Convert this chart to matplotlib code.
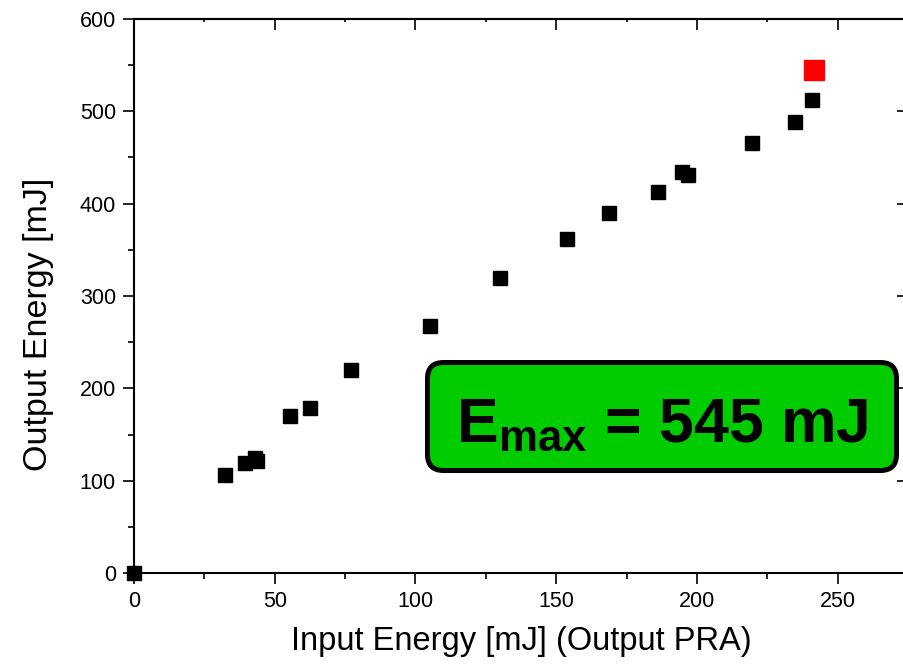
import matplotlib
matplotlib.use("Agg")
import matplotlib.pyplot as plt
from matplotlib.patches import FancyBboxPatch
from matplotlib.ticker import MultipleLocator
import numpy as np

plt.rcParams["font.family"] = "Liberation Sans"
plt.rcParams["mathtext.fontset"] = "custom"
plt.rcParams["mathtext.bf"] = "Liberation Sans:bold"
plt.rcParams["mathtext.rm"] = "Liberation Sans"

# measured pulse energies
input_energy = np.array([0, 32.4, 39.5, 43.0, 43.6, 55.5, 62.5, 77.2, 105.0,
                         130.0, 154.0, 168.8, 186.1, 194.8, 196.8, 219.7,
                         234.8, 240.8])
output_energy = np.array([0, 106, 119, 125, 121, 170, 179, 220, 268, 320,
                          362, 390, 413, 434, 431, 466, 488, 512])

# best shot
max_input = 241.6
max_output = 545

fig = plt.figure(figsize=(9.04, 6.64), dpi=100)
W, H = 904, 664
ax = fig.add_axes([134 / W, (H - 573) / H, 774 / W, 554 / H])

ax.plot(input_energy, output_energy, "s", color="black", ms=9.4,
        mec="black", clip_on=False, zorder=5)
ax.plot([max_input], [max_output], "s", color="#ff0000", ms=13.7,
        mec="#ff0000", clip_on=False, zorder=5)

ax.set_xlim(0, 275)
ax.set_ylim(0, 600)
ax.xaxis.set_major_locator(MultipleLocator(50))
ax.xaxis.set_minor_locator(MultipleLocator(25))
ax.yaxis.set_major_locator(MultipleLocator(100))
ax.yaxis.set_minor_locator(MultipleLocator(50))

for s in ax.spines.values():
    s.set_linewidth(1.5)

ax.tick_params(which="major", direction="out", length=8, width=1.2,
               labelsize=15.5, pad=5)
ax.tick_params(which="minor", direction="out", length=4, width=1.2)

# mirrored ticks on the top and right
top = ax.secondary_xaxis("top")
top.xaxis.set_major_locator(MultipleLocator(50))
top.xaxis.set_minor_locator(MultipleLocator(25))
top.tick_params(which="major", direction="in", length=8, width=1.2,
                labeltop=False)
top.tick_params(which="minor", direction="in", length=2, width=1.2)
top.spines["top"].set_linewidth(1.5)

right = ax.secondary_yaxis("right")
right.yaxis.set_major_locator(MultipleLocator(100))
right.yaxis.set_minor_locator(MultipleLocator(50))
right.tick_params(which="major", direction="in", length=8, width=1.2,
                  labelright=False)
right.tick_params(which="minor", direction="in", length=2, width=1.2)

ax.set_xlabel("Input Energy [mJ] (Output PRA)", fontsize=23.5, labelpad=10)
ax.set_ylabel("Output Energy [mJ]", fontsize=24.5)
ax.yaxis.set_label_coords(-0.103, 0.448)

# highlight box with the maximum energy
box = FancyBboxPatch((4.275, 1.935), 4.69, 1.08,
                     boxstyle="round,pad=0,rounding_size=0.16",
                     transform=fig.dpi_scale_trans, facecolor="#00cc00",
                     edgecolor="black", linewidth=3.6, zorder=10)
fig.patches.append(box)
fig.text(6.62, 2.223, r"$\mathbf{E_{max}}$ = %d mJ" % max_output,
         transform=fig.dpi_scale_trans, ha="center", va="baseline",
         fontsize=45, fontweight="bold", zorder=11)

fig.savefig("out.png", dpi=100)
plt.close(fig)
